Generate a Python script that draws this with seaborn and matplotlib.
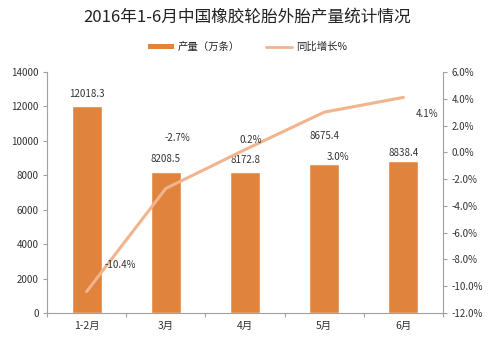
import numpy as np
import pandas as pd
import matplotlib
matplotlib.use("Agg")
import matplotlib.pyplot as plt
from matplotlib.patches import Patch
from matplotlib.lines import Line2D
import seaborn as sns

months = ["1-2月", "3月", "4月", "5月", "6月"]
output = [12018.3, 8208.5, 8172.8, 8675.4, 8838.4]
growth = [-10.4, -2.7, 0.2, 3.0, 4.1]
left_ticks = [0, 2000, 4000, 6000, 8000, 10000, 12000, 14000]
right_ticks = [-12, -10, -8, -6, -4, -2, 0, 2, 4, 6]

sns.set_theme(style="white")
plt.rcParams['font.family'] = ['Noto Sans CJK SC', 'DejaVu Sans']

bar_color = "#DF833D"
line_color = "#F2B48C"
txt = "#333333"
axis_c = "#A0A0A0"

fig = plt.figure(figsize=(4.95, 3.39), dpi=100)
ax = fig.add_axes([0.095, 0.0767, 0.80, 0.711])

df = pd.DataFrame({"month": months, "output": output, "pos": np.arange(len(months)), "growth": growth})
sns.barplot(data=df, x="month", y="output", color=bar_color, width=0.38, ax=ax, saturation=1)
ax.set_xlim(-0.5, len(months) - 0.5)
ax.set_ylim(0, 14000)
ax.set_yticks(left_ticks)
ax.set_yticklabels([str(t) for t in left_ticks], fontsize=7, color=txt)
ax.set_xlabel("")
ax.set_ylabel("")
ax.tick_params(axis='x', length=0, labelsize=7.5, colors=txt, pad=6)
ax.tick_params(axis='y', length=3, color=axis_c, width=0.8, left=True, pad=3)
ax.set_xticks(np.arange(-0.5, len(months)), minor=True)
ax.tick_params(axis='x', which='minor', length=3, color=axis_c, width=0.8, bottom=True)
for s in ["top", "right"]:
    ax.spines[s].set_visible(False)
for s in ["left", "bottom"]:
    ax.spines[s].set_color(axis_c)
    ax.spines[s].set_linewidth(0.8)

ax2 = ax.twinx()
sns.lineplot(data=df, x="pos", y="growth", color=line_color, linewidth=2.2, ax=ax2)
ax2.set_ylim(-12, 6)
ax2.set_yticks(right_ticks)
ax2.set_yticklabels([f"{t:.1f}%" for t in right_ticks], fontsize=7, color=txt)
ax2.set_ylabel("")
ax2.set_xlabel("")
ax2.tick_params(axis='y', length=3, color=axis_c, width=0.8, right=True, pad=3)
for s in ["top", "left", "bottom"]:
    ax2.spines[s].set_visible(False)
ax2.spines["right"].set_color(axis_c)
ax2.spines["right"].set_linewidth(0.8)
ax2.set_xlim(-0.5, len(months) - 0.5)

# bar value labels (offsets in points)
bar_offsets = [(0, 9), (0, 9), (0, 9), (0, 20), (0, 6)]
for i, v in enumerate(output):
    ax.annotate(f"{v:.1f}", (i, v), xytext=bar_offsets[i], textcoords="offset points",
                ha="center", va="center", fontsize=7, color=txt)

# growth labels
g_offsets = [(24, 19), (8, 36), (4, 7), (10, -32), (17, -12)]
for i, g in enumerate(growth):
    ax2.annotate(f"{g:.1f}%", (i, g), xytext=g_offsets[i], textcoords="offset points",
                 ha="center", va="center", fontsize=7, color=txt)

fig.text(0.5, 0.948, "2016年1-6月中国橡胶轮胎外胎产量统计情况", ha="center", va="center",
         fontsize=12, color="#222222")

handles = [Patch(facecolor=bar_color, edgecolor="none"),
           Line2D([0], [0], color=line_color, linewidth=2)]
fig.legend(handles, ["产量（万条）", "同比增长%"], loc="center", bbox_to_anchor=(0.5, 0.862),
           ncol=2, frameon=False, fontsize=7.5, handlelength=2.5, handleheight=0.35,
           columnspacing=2.5, handletextpad=0.4)

fig.savefig("out.png", dpi=100, facecolor="white")
